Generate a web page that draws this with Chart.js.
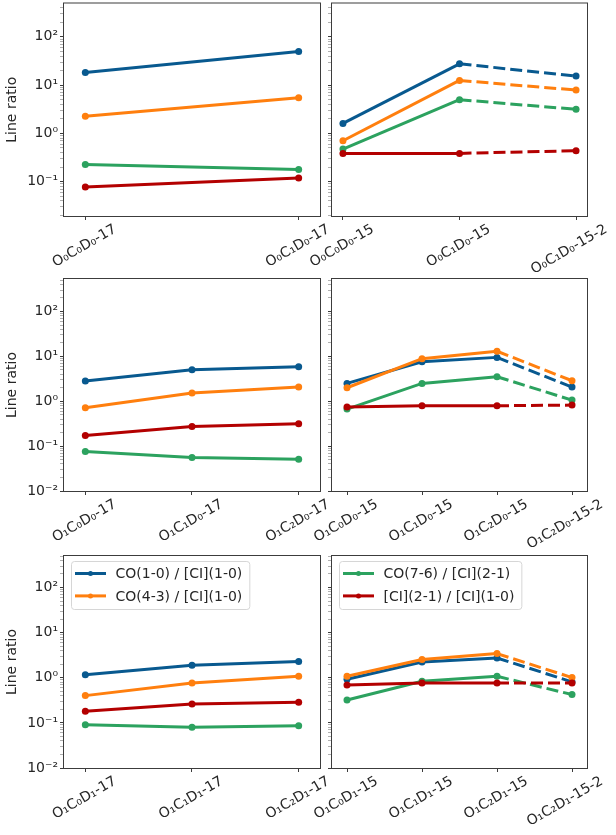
<!DOCTYPE html>
<html>
<head>
<meta charset="utf-8">
<script src="https://cdn.jsdelivr.net/npm/chart.js@4.4.1/dist/chart.umd.min.js"></script>
<style>
  html, body { margin: 0; padding: 0; background: #fff; }
  #wrap { position: relative; width: 616px; height: 835px; }
  #wrap canvas { position: absolute; left: 0; top: 0; }
</style>
</head>
<body>
<div id="wrap">
  <canvas id="tl" width="616" height="835"></canvas>
  <canvas id="tr" width="616" height="835"></canvas>
  <canvas id="ml" width="616" height="835"></canvas>
  <canvas id="mr" width="616" height="835"></canvas>
  <canvas id="bl" width="616" height="835"></canvas>
  <canvas id="br" width="616" height="835"></canvas>
</div>
<script>
// series (same order in every panel)
const seriesNames = ['CO(1-0) / [CI](1-0)', 'CO(4-3) / [CI](1-0)', 'CO(7-6) / [CI](2-1)', '[CI](2-1) / [CI](1-0)'];
const seriesColors = ['#08598f', '#ff7f0e', '#2ca25f', '#b30000'];

// y axis decade labels
const yTickValues = [0.01, 0.1, 1, 10, 100];
const yTickLabels = ['10⁻²', '10⁻¹', '10⁰', '10¹', '10²'];

// row 1
const catsTL = ['O₀C₀D₀-17', 'O₀C₁D₀-17'];
const tlCO10 = [18.2, 49.6];
const tlCO43 = [2.28, 5.5];
const tlCO76 = [0.227, 0.179];
const tlCI21 = [0.078, 0.119];

const catsTR = ['O₀C₀D₀-15', 'O₀C₁D₀-15', 'O₀C₁D₀-15-2'];
const trCO10 = [1.61, 27.6, 15.4];
const trCO43 = [0.705, 12.5, 7.9];
const trCO76 = [0.474, 5.0, 3.15];
const trCI21 = [0.386, 0.386, 0.438];

// row 2
const catsML = ['O₁C₀D₀-17', 'O₁C₁D₀-17', 'O₁C₂D₀-17'];
const mlCO10 = [2.83, 5.06, 5.9];
const mlCO43 = [0.716, 1.52, 2.07];
const mlCO76 = [0.0757, 0.0556, 0.051];
const mlCI21 = [0.172, 0.274, 0.314];

const catsMR = ['O₁C₀D₀-15', 'O₁C₁D₀-15', 'O₁C₂D₀-15', 'O₁C₂D₀-15-2'];
const mrCO10 = [2.5, 7.6, 9.5, 2.07];
const mrCO43 = [2.0, 8.9, 13.0, 2.87];
const mrCO76 = [0.668, 2.5, 3.52, 1.06];
const mrCI21 = [0.741, 0.794, 0.794, 0.82];

// row 3
const catsBL = ['O₁C₀D₁-17', 'O₁C₁D₁-17', 'O₁C₂D₁-17'];
const blCO10 = [1.17, 1.89, 2.28];
const blCO43 = [0.402, 0.767, 1.08];
const blCO76 = [0.0914, 0.0797, 0.0869];
const blCI21 = [0.181, 0.263, 0.287];

const catsBR = ['O₁C₀D₁-15', 'O₁C₁D₁-15', 'O₁C₂D₁-15', 'O₁C₂D₁-15-2'];
const brCO10 = [0.927, 2.24, 2.75, 0.81];
const brCO43 = [1.08, 2.53, 3.44, 1.01];
const brCO76 = [0.322, 0.835, 1.08, 0.424];
const brCI21 = [0.693, 0.767, 0.767, 0.767];

const FONT = 'DejaVu Sans';
const TEXT = '#262626';
const AXIS_W = 64;   // fixed y axis box width
const AXIS_H = 70;   // fixed x axis box height

// plot boxes: [left, top, right, bottom] in page pixels
const panels = [
  { id: 'tl', cats: catsTL, vals: [tlCO10, tlCO43, tlCO76, tlCI21], box: [64, 3, 320, 216], xr: [-0.1, 1.1], yr: [0.0195, 490], yLabels: true, dashed: false, legend: [] },
  { id: 'tr', cats: catsTR, vals: [trCO10, trCO43, trCO76, trCI21], box: [332, 3, 587, 216], xr: [-0.094, 2.094], yr: [0.0195, 490], yLabels: false, dashed: true, legend: [] },
  { id: 'ml', cats: catsML, vals: [mlCO10, mlCO43, mlCO76, mlCI21], box: [64, 279, 320, 491], xr: [-0.2, 2.2], yr: [0.01, 530], yLabels: true, dashed: false, legend: [] },
  { id: 'mr', cats: catsMR, vals: [mrCO10, mrCO43, mrCO76, mrCI21], box: [332, 279, 587, 491], xr: [-0.2, 3.2], yr: [0.01, 530], yLabels: false, dashed: true, legend: [] },
  { id: 'bl', cats: catsBL, vals: [blCO10, blCO43, blCO76, blCI21], box: [64, 556, 320, 768], xr: [-0.2, 2.2], yr: [0.01, 500], yLabels: true, dashed: false, legend: [0, 1] },
  { id: 'br', cats: catsBR, vals: [brCO10, brCO43, brCO76, brCI21], box: [332, 556, 587, 768], xr: [-0.2, 3.2], yr: [0.01, 500], yLabels: false, dashed: true, legend: [2, 3] }
];

Chart.defaults.font.family = FONT;
Chart.defaults.color = TEXT;

const isDecade = v => Math.abs(Math.log10(v) - Math.round(Math.log10(v))) < 1e-6;

// axes frame (matplotlib spines)
const framePlugin = {
  id: 'frame',
  afterDatasetsDraw(chart) {
    const { ctx, chartArea: a } = chart;
    ctx.save();
    ctx.strokeStyle = '#3c3c3c';
    ctx.lineWidth = 1;
    ctx.strokeRect(a.left - 0.5, a.top - 0.5, a.right - a.left + 1, a.bottom - a.top + 1);
    ctx.restore();
  }
};

// legend box drawn inside the plot area
const boxLegend = {
  id: 'boxLegend',
  afterDraw(chart, args, opts) {
    const items = opts.items || [];
    if (!items.length) return;
    const { ctx, chartArea: a } = chart;
    ctx.save();
    ctx.font = '14px "' + FONT + '"';
    const labels = items.map(i => chart.data.datasets[i].label);
    const tw = Math.max(...labels.map(t => ctx.measureText(t).width));
    const x = a.left + 7, y = a.top + 5, w = 4 + 31 + 9.5 + tw + 7, h = 48;
    ctx.beginPath();
    ctx.roundRect(x + 0.5, y + 0.5, w, h, 3);
    ctx.fillStyle = 'rgba(255,255,255,0.8)';
    ctx.fill();
    ctx.strokeStyle = '#d6d6d6';
    ctx.lineWidth = 1;
    ctx.stroke();
    items.forEach((di, k) => {
      const ds = chart.data.datasets[di];
      const ly = y + 12.5 + k * 22.4;
      ctx.strokeStyle = ds.borderColor;
      ctx.lineWidth = 3;
      ctx.beginPath();
      ctx.moveTo(x + 4, ly);
      ctx.lineTo(x + 35, ly);
      ctx.stroke();
      ctx.fillStyle = ds.borderColor;
      ctx.beginPath();
      ctx.arc(x + 19.5, ly, 2.5, 0, Math.PI * 2);
      ctx.fill();
      ctx.fillStyle = TEXT;
      ctx.textBaseline = 'middle';
      ctx.fillText(ds.label, x + 44.5, ly + 1);
    });
    ctx.restore();
  }
};

function makePanel(p) {
  const last = p.cats.length - 1;
  const [L, T, R, B] = p.box;

  const datasets = p.vals.map((vals, i) => ({
    label: seriesNames[i],
    data: vals.map((v, k) => ({ x: k, y: v })),
    borderColor: seriesColors[i],
    backgroundColor: seriesColors[i],
    borderWidth: 3,
    pointRadius: 3.5,
    pointHoverRadius: 3.5,
    pointBorderWidth: 0,
    order: 3 - i,
    segment: {
      // last step of the right-hand panels is dashed
      borderDash: ctx => (p.dashed && ctx.p1DataIndex === last) ? [12, 5] : undefined
    }
  }));

  new Chart(document.getElementById(p.id), {
    type: 'line',
    data: { datasets },
    plugins: [framePlugin, boxLegend],
    options: {
      responsive: false,
      animation: false,
      devicePixelRatio: 1,
      events: [],
      layout: { padding: { left: L - AXIS_W, top: T, right: 616 - R, bottom: 835 - B - AXIS_H } },
      plugins: {
        legend: { display: false },
        tooltip: { enabled: false },
        boxLegend: { items: p.legend }
      },
      scales: {
        x: {
          type: 'linear',
          min: p.xr[0],
          max: p.xr[1],
          afterBuildTicks: s => { s.ticks = p.cats.map((c, i) => ({ value: i })); },
          afterFit: s => { s.height = AXIS_H; s.paddingLeft = 0; s.paddingRight = 0; },
          border: { display: false },
          grid: { drawOnChartArea: false, drawTicks: true, tickLength: 4, tickColor: '#3c3c3c' },
          ticks: {
            autoSkip: false,
            minRotation: 30,
            maxRotation: 30,
            labelOffset: 30,
            padding: 1,
            color: TEXT,
            font: { size: 14 },
            callback: v => p.cats[v]
          }
        },
        y: {
          type: 'logarithmic',
          min: p.yr[0],
          max: p.yr[1],
          afterBuildTicks: s => {
            const ticks = [];
            for (let e = -2; e <= 2; e++) {
              for (let m = 1; m <= 9; m++) {
                const v = m * Math.pow(10, e);
                if (v >= p.yr[0] && v <= p.yr[1]) ticks.push({ value: v });
              }
            }
            s.ticks = ticks;
          },
          afterFit: s => { s.width = AXIS_W; s.paddingTop = 0; s.paddingBottom = 0; },
          border: { display: false },
          grid: {
            drawOnChartArea: false,
            drawTicks: true,
            tickLength: 4,
            tickColor: ctx => (ctx.tick && isDecade(ctx.tick.value)) ? '#3c3c3c' : '#7a7a7a',
            tickWidth: ctx => (ctx.tick && isDecade(ctx.tick.value)) ? 1 : 0.6
          },
          ticks: {
            autoSkip: false,
            padding: 2,
            color: TEXT,
            font: { size: 14 },
            callback: v => {
              if (!p.yLabels || !isDecade(v)) return '';
              const k = yTickValues.findIndex(t => Math.abs(Math.log10(t) - Math.log10(v)) < 1e-6);
              return k >= 0 ? yTickLabels[k] : '';
            }
          },
          title: {
            display: p.yLabels,
            text: 'Line ratio',
            color: TEXT,
            font: { size: 14 },
            padding: { top: 4, bottom: 4 }
          }
        }
      }
    }
  });
}

panels.forEach(makePanel);
</script>
</body>
</html>
